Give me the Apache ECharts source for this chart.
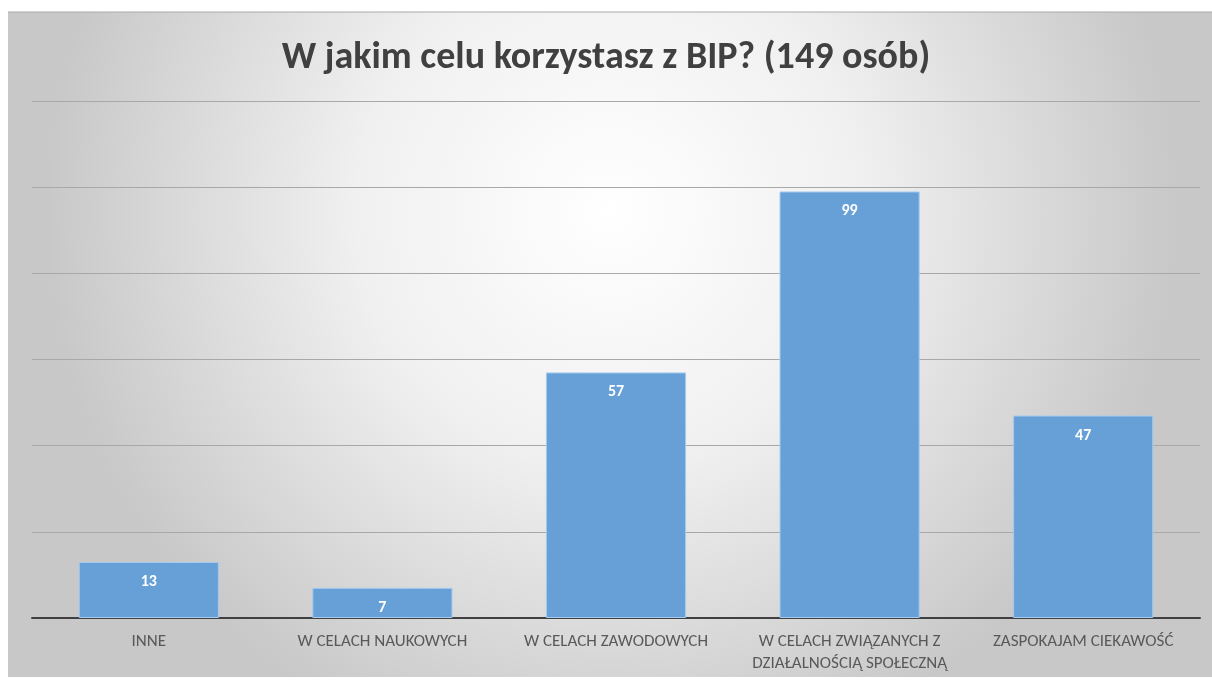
<!DOCTYPE html>
<html>
<head>
<meta charset="utf-8">
<script src="https://cdn.jsdelivr.net/npm/echarts@6/dist/echarts.min.js"></script>
<style>
	html, body { margin: 0; padding: 0; background: #fff; }
	#chart { width: 1212px; height: 681px; }
</style>
</head>
<body>
<div id="chart"></div>
<script>
	//数据
	var titleText = 'W jakim celu korzystasz z BIP? (149 osób)';
	var categories = [
		'INNE',
		'W CELACH NAUKOWYCH',
		'W CELACH ZAWODOWYCH',
		'W CELACH ZWIĄZANYCH Z\nDZIAŁALNOŚCIĄ SPOŁECZNĄ',
		'ZASPOKAJAM CIEKAWOŚĆ'
	];
	var values = [13, 7, 57, 99, 47];
	var yTicks = [0, 20, 40, 60, 80, 100, 120];

	var font = 'Carlito, "Liberation Sans Narrow", "Open Sans", sans-serif';

	var chart = echarts.init(document.getElementById('chart'));

	chart.setOption({
		animation: false,
		graphic: [{
			type: 'rect',
			left: 8,
			top: 12,
			z: -10,
			shape: { width: 1204, height: 665 },
			style: {
				//径向渐变背景
				fill: new echarts.graphic.RadialGradient(0.5, 0.3, 0.85, [
					{ offset: 0, color: '#ffffff' },
					{ offset: 0.45, color: '#f0f0f0' },
					{ offset: 1, color: '#c8c8c8' }
				])
			}
		}, {
			type: 'line',
			z: -9,
			shape: { x1: 8, y1: 12, x2: 1212, y2: 12 },
			style: { stroke: '#a9a9a9', lineWidth: 1 }
		}],
		title: {
			text: titleText,
			left: 'center',
			top: 34,
			textStyle: {
				fontFamily: font,
				fontSize: 38,
				fontWeight: 'bold',
				color: '#404040'
			}
		},
		grid: {
			left: 32,
			right: 12,
			top: 101,
			bottom: 63,
			containLabel: false
		},
		xAxis: {
			type: 'category',
			data: categories,
			axisTick: { show: false },
			axisLine: { lineStyle: { color: '#404040', width: 2 } },
			axisLabel: {
				interval: 0,
				margin: 13,
				fontFamily: font,
				fontSize: 17,
				lineHeight: 22,
				color: '#595959'
			}
		},
		yAxis: {
			type: 'value',
			min: yTicks[0],
			max: yTicks[yTicks.length - 1],
			interval: yTicks[1] - yTicks[0],
			axisLabel: { show: false },
			axisLine: { show: false },
			axisTick: { show: false },
			splitLine: { lineStyle: { color: '#a8a8a8', width: 1 } }
		},
		series: [{
			type: 'bar',
			data: values,
			barWidth: '60%',
			itemStyle: { color: '#67a0d6', borderColor: '#a6cbee', borderWidth: 1 },
			label: {
				show: true,
				position: 'insideTop',
				distance: 12,
				fontFamily: font,
				fontSize: 16,
				fontWeight: 'bold',
				color: '#ffffff'
			}
		}]
	});
</script>
</body>
</html>
